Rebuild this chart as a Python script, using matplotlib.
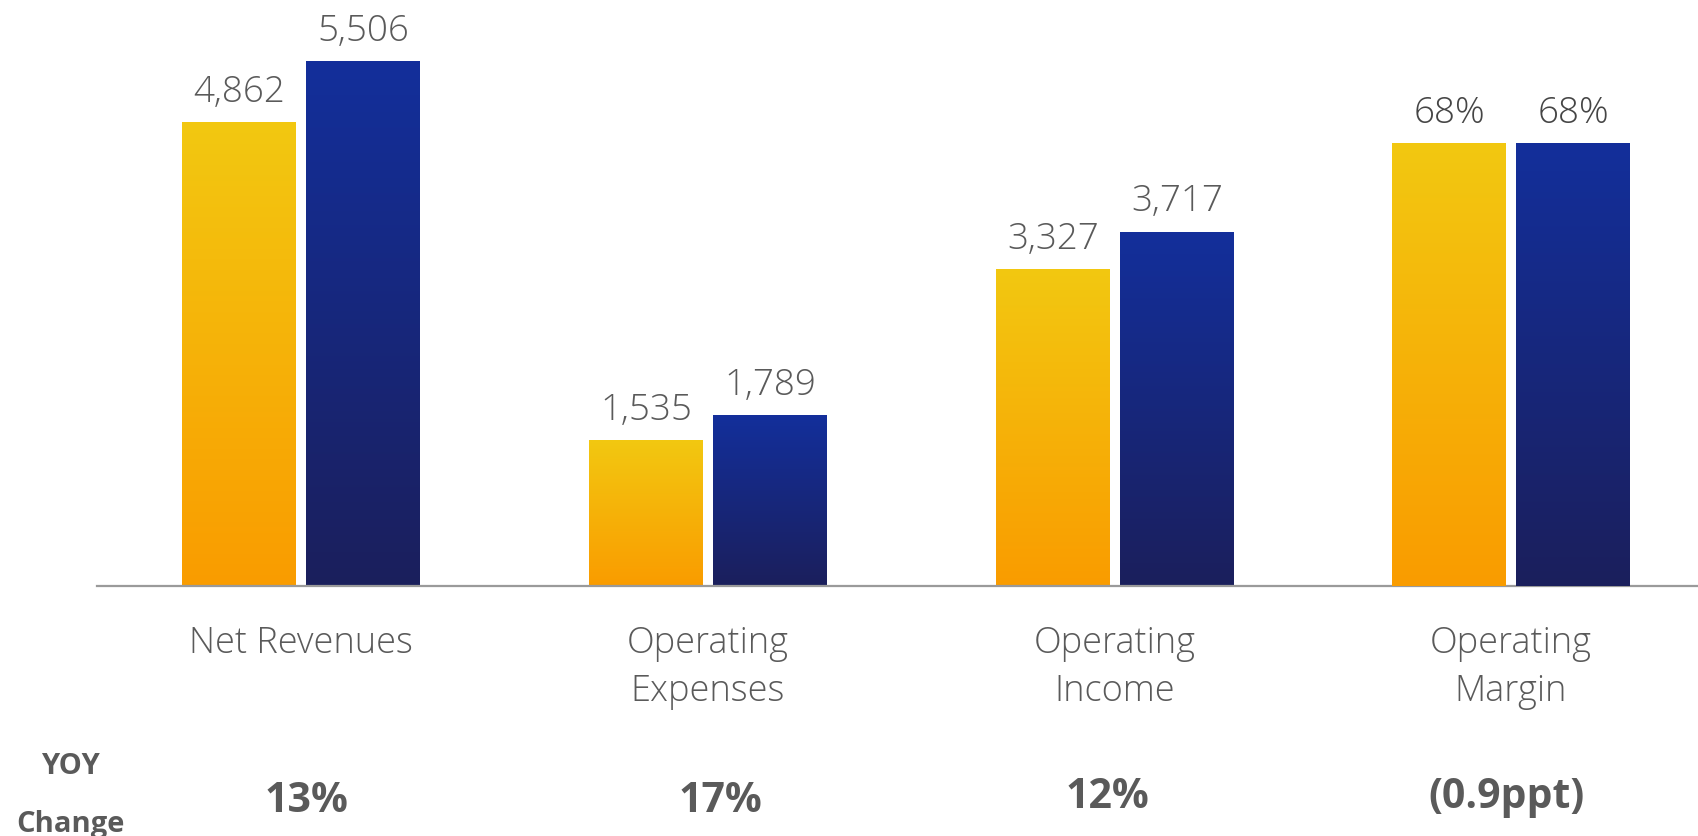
import matplotlib
matplotlib.use("Agg")
import matplotlib.pyplot as plt
import numpy as np
from matplotlib.colors import LinearSegmentedColormap
from matplotlib.transforms import blended_transform_factory

plt.rcParams['font.family'] = ['Open Sans', 'DejaVu Sans']

# ---------------- data ----------------
categories = ["Net Revenues", "Operating\nExpenses", "Operating\nIncome", "Operating\nMargin"]
prior_values = [4862, 1535, 3327]          # $M, prior year (yellow)
current_values = [5506, 1789, 3717]        # $M, current year (blue)
margin_prior = [68]                        # %, operating margin prior
margin_current = [68]                      # %, operating margin current
value_labels_prior = ["4,862", "1,535", "3,327", "68%"]
value_labels_current = ["5,506", "1,789", "3,717", "68%"]
yoy_labels = ["13%", "17%", "12%", "(0.9ppt)"]
yoy_title = ["YOY", "Change"]

# ---------------- layout ----------------
W, H = 1698, 836
fig = plt.figure(figsize=(W / 100, H / 100), dpi=100)
fig.patch.set_facecolor("white")

ax_left, ax_bottom, ax_top = 97, 250, 836
ax = fig.add_axes([ax_left / W, ax_bottom / H, (W - ax_left) / W, (ax_top - ax_bottom) / H])
ax2 = ax.twinx()

group_x = [0.0, 1.0, 2.0, 2.973]
yoy_x = [0.014, 1.030, 1.981, 2.963]
offset = 0.1523
bar_w = 0.280
xlim = (-0.5012, 3.4324)
ylim_main = (0, 6146)
ylim_margin = (0, 89.9)

yellow_cmap = LinearSegmentedColormap.from_list("y", ["#FA9C00", "#F2C811"])
blue_cmap = LinearSegmentedColormap.from_list("b", ["#1B1F5C", "#132F9B"])
grad = np.linspace(0, 1, 256).reshape(-1, 1)

label_color = "#5A5A5A"


def gradient_bars(axis, xs, heights, cmap):
    bars = axis.bar(xs, heights, width=bar_w, color="none", edgecolor="none")
    for b in bars:
        x0, y0 = b.get_x(), b.get_y()
        w, h = b.get_width(), b.get_height()
        im = axis.imshow(grad, cmap=cmap, origin="lower", aspect="auto",
                         extent=[x0, x0 + w, y0, y0 + h], zorder=2,
                         interpolation="bicubic")
        im.set_clip_path(b)
    return bars


xs_main = group_x[:3]
b1 = gradient_bars(ax, [x - offset for x in xs_main], prior_values, yellow_cmap)
b2 = gradient_bars(ax, [x + offset for x in xs_main], current_values, blue_cmap)
b3 = gradient_bars(ax2, [group_x[3] - offset], margin_prior, yellow_cmap)
b4 = gradient_bars(ax2, [group_x[3] + offset], margin_current, blue_cmap)

for axis, yl in ((ax, ylim_main), (ax2, ylim_margin)):
    axis.set_xlim(*xlim)
    axis.set_ylim(*yl)
    axis.set_yticks([])
    axis.set_xticks([])
    for s in axis.spines.values():
        s.set_visible(False)
    axis.patch.set_alpha(0)

ax.spines["bottom"].set_visible(True)
ax.spines["bottom"].set_color("#9A9A9A")
ax.spines["bottom"].set_linewidth(1.6)

# value labels
all_bars = list(zip(b1, value_labels_prior[:3])) + list(zip(b2, value_labels_current[:3]))
for b, lab in all_bars:
    ax.annotate(lab, (b.get_x() + b.get_width() / 2, b.get_height()),
                xytext=(0, 14.5), textcoords="offset points", ha="center",
                va="baseline", fontsize=26.5, color=label_color, fontweight="light")
for b, lab in list(zip(b3, value_labels_prior[3:])) + list(zip(b4, value_labels_current[3:])):
    ax2.annotate(lab, (b.get_x() + b.get_width() / 2, b.get_height()),
                 xytext=(0, 14.5), textcoords="offset points", ha="center",
                 va="baseline", fontsize=26.5, color="#454545", fontweight="light")

# category labels
tr = blended_transform_factory(ax.transData, fig.transFigure)
for gx, cat in zip(group_x, categories):
    for i, line in enumerate(cat.split("\n")):
        ax.text(gx, 1 - (653 + 48 * i) / H, line, transform=tr, ha="center",
                va="baseline", fontsize=26, color=label_color, fontweight="light")

# YOY row
yoy_base = [812, 812, 808, 808]
for gx, lab, yb in zip(yoy_x, yoy_labels, yoy_base):
    ax.text(gx, 1 - yb / H, lab, transform=tr, ha="center", va="baseline",
            fontsize=29.5, color=label_color, fontweight="bold")

fig.text(70 / W, 1 - 774 / H, yoy_title[0], ha="center", va="baseline",
         fontsize=21, color=label_color, fontweight="bold")
fig.text(70 / W, 1 - 832 / H, yoy_title[1], ha="center", va="baseline",
         fontsize=21, color=label_color, fontweight="bold")

fig.savefig("out.png", dpi=100, facecolor="white")
